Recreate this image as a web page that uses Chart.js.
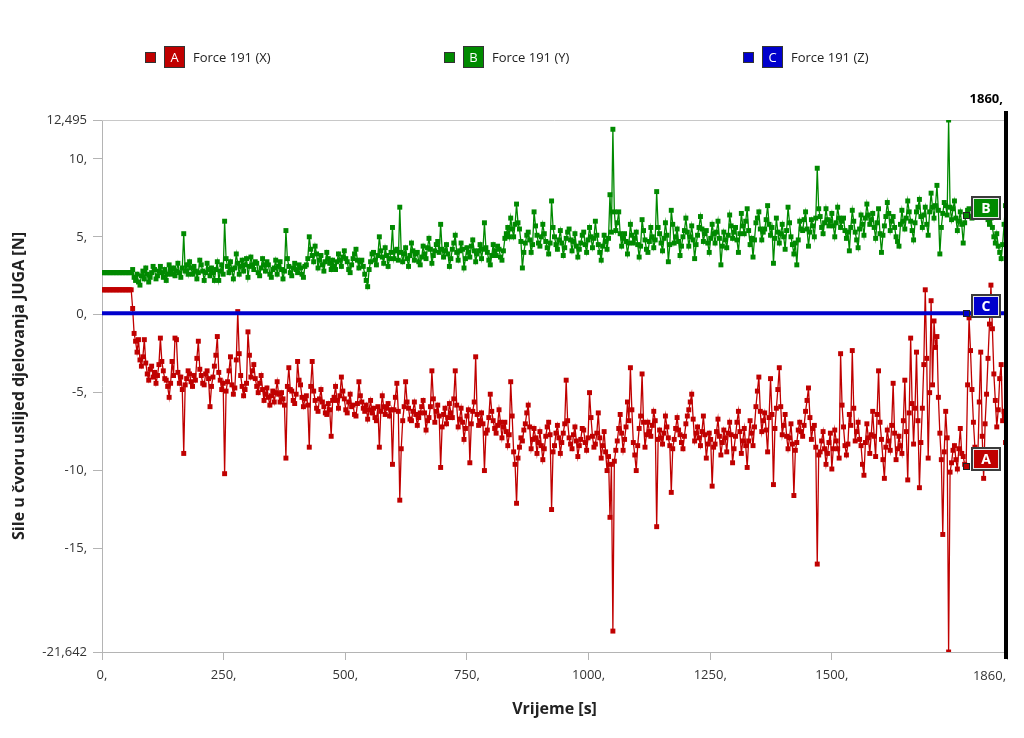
<!DOCTYPE html>
<html><head><meta charset="utf-8">
<script src="https://cdn.jsdelivr.net/npm/chart.js@4.4.1/dist/chart.umd.min.js"></script>
<style>html,body{margin:0;padding:0;background:#fff;}canvas{display:block;}</style>
</head><body>
<canvas id="c" width="1024" height="738"></canvas>
<script>
// ---- DATA ----
const times = [
0,3,6,9,12,15,18,21,24,27,30,33,36,39,42,45,48,51,54,57,
60,63,66,69,72,75,78,81,84,87,90,93,96,99,102,105,108,111,114,117,
120,123,126,129,132,135,138,141,144,147,150,153,156,159,162,165,168,171,174,177,
180,183,186,189,192,195,198,201,204,207,210,213,216,219,222,225,228,231,234,237,
240,243,246,249,252,255,258,261,264,267,270,273,276,279,282,285,288,291,294,297,
300,303,306,309,312,315,318,321,324,327,330,333,336,339,342,345,348,351,354,357,
360,363,366,369,372,375,378,381,384,387,390,393,396,399,402,405,408,411,414,417,
420,423,426,429,432,435,438,441,444,447,450,453,456,459,462,465,468,471,474,477,
480,483,486,489,492,495,498,501,504,507,510,513,516,519,522,525,528,531,534,537,
540,543,546,549,552,555,558,561,564,567,570,573,576,579,582,585,588,591,594,597,
600,603,606,609,612,615,618,621,624,627,630,633,636,639,642,645,648,651,654,657,
660,663,666,669,672,675,678,681,684,687,690,693,696,699,702,705,708,711,714,717,
720,723,726,729,732,735,738,741,744,747,750,753,756,759,762,765,768,771,774,777,
780,783,786,789,792,795,798,801,804,807,810,813,816,819,822,825,828,831,834,837,
840,843,846,849,852,855,858,861,864,867,870,873,876,879,882,885,888,891,894,897,
900,903,906,909,912,915,918,921,924,927,930,933,936,939,942,945,948,951,954,957,
960,963,966,969,972,975,978,981,984,987,990,993,996,999,1002,1005,1008,1011,1014,1017,
1020,1023,1026,1029,1032,1035,1038,1041,1044,1047,1050,1053,1056,1059,1062,1065,1068,1071,1074,1077,
1080,1083,1086,1089,1092,1095,1098,1101,1104,1107,1110,1113,1116,1119,1122,1125,1128,1131,1134,1137,
1140,1143,1146,1149,1152,1155,1158,1161,1164,1167,1170,1173,1176,1179,1182,1185,1188,1191,1194,1197,
1200,1203,1206,1209,1212,1215,1218,1221,1224,1227,1230,1233,1236,1239,1242,1245,1248,1251,1254,1257,
1260,1263,1266,1269,1272,1275,1278,1281,1284,1287,1290,1293,1296,1299,1302,1305,1308,1311,1314,1317,
1320,1323,1326,1329,1332,1335,1338,1341,1344,1347,1350,1353,1356,1359,1362,1365,1368,1371,1374,1377,
1380,1383,1386,1389,1392,1395,1398,1401,1404,1407,1410,1413,1416,1419,1422,1425,1428,1431,1434,1437,
1440,1443,1446,1449,1452,1455,1458,1461,1464,1467,1470,1473,1476,1479,1482,1485,1488,1491,1494,1497,
1500,1503,1506,1509,1512,1515,1518,1521,1524,1527,1530,1533,1536,1539,1542,1545,1548,1551,1554,1557,
1560,1563,1566,1569,1572,1575,1578,1581,1584,1587,1590,1593,1596,1599,1602,1605,1608,1611,1614,1617,
1620,1623,1626,1629,1632,1635,1638,1641,1644,1647,1650,1653,1656,1659,1662,1665,1668,1671,1674,1677,
1680,1683,1686,1689,1692,1695,1698,1701,1704,1707,1710,1713,1716,1719,1722,1725,1728,1731,1734,1737,
1740,1743,1746,1749,1752,1755,1758,1761,1764,1767,1770,1773,1776,1779,1782,1785,1788,1791,1794,1797,
1800,1803,1806,1809,1812,1815,1818,1821,1824,1827,1830,1833,1836,1839,1842,1845,1848,1851,1854,1857,
1860];

const forceX = [
1.6,1.6,1.6,1.6,1.6,1.6,1.6,1.6,1.6,1.6,1.6,1.6,1.6,1.6,1.6,1.6,1.6,1.6,1.6,1.6,
1.6,0.4,-1.2,-1.7,-2.4,-1.6,-2.9,-3.3,-2.7,-1.6,-3.1,-3.8,-4.2,-3.5,-3.3,-4.0,-3.7,-4.4,-3.9,-3.2,
-1.5,-3.0,-3.6,-4.1,-4.2,-4.6,-5.3,-4.4,-3.0,-3.9,-1.5,-1.6,-3.7,-4.4,-4.0,-4.8,-8.9,-4.5,-4.1,-3.6,
-3.8,-4.3,-4.6,-3.9,-4.2,-2.8,-1.7,-3.5,-3.9,-4.4,-4.5,-3.8,-3.6,-4.1,-5.9,-4.6,-4.0,-3.3,-2.6,-1.4,
-3.7,-4.2,-4.8,-4.4,-10.2,-4.9,-4.3,-3.6,-2.7,-4.5,-5.1,-4.7,-2.9,0.2,-2.5,-3.9,-4.6,-5.2,-4.8,-4.4,
-1.1,-2.6,-4.0,-3.6,-3.2,-4.1,-4.6,-5.0,-4.4,-3.9,-4.8,-5.5,-5.1,-4.7,-5.3,-5.8,-5.2,-4.9,-5.6,-5.0,
-4.3,-5.1,-5.6,-5.0,-5.4,-5.8,-9.2,-4.6,-3.4,-4.8,-4.9,-5.5,-5.7,-5.1,-3.0,-4.2,-4.5,-5.3,-5.9,-5.4,
-5.2,-5.8,-8.5,-4.6,-3.0,-4.9,-5.5,-6.0,-6.2,-5.4,-4.8,-5.6,-5.9,-6.3,-6.4,-5.7,-6.1,-7.8,-5.5,-5.3,
-4.6,-5.5,-6.0,-5.2,-4.0,-4.9,-5.4,-6.1,-6.3,-5.6,-5.1,-5.9,-5.8,-6.4,-6.5,-5.7,-4.3,-5.2,-5.6,-6.0,
-6.2,-5.8,-6.7,-6.1,-5.5,-6.3,-6.0,-6.6,-6.8,-5.9,-8.5,-6.2,-5.2,-5.9,-6.4,-6.0,-5.7,-6.5,-6.1,-9.6,
-6.1,-5.3,-4.4,-6.2,-11.9,-8.6,-6.8,-5.9,-4.3,-5.6,-6.0,-6.7,-6.8,-6.2,-5.6,-6.4,-7.1,-6.6,-6.3,-5.9,
-5.5,-6.3,-7.4,-6.8,-6.6,-5.9,-3.6,-5.4,-6.9,-6.2,-5.8,-6.5,-9.8,-7.2,-6.4,-6.0,-7.0,-6.6,-5.7,-6.3,
-6.6,-5.4,-3.6,-5.8,-7.2,-6.7,-6.0,-6.9,-8.0,-7.3,-6.5,-6.1,-9.5,-7.0,-6.2,-5.6,-2.7,-6.4,-7.1,-6.8,
-6.3,-7.0,-10.0,-7.6,-7.4,-6.6,-5.1,-6.2,-6.8,-7.3,-7.6,-7.1,-6.1,-6.9,-7.9,-7.2,-6.9,-7.5,-8.4,-7.7,
-4.3,-6.5,-8.8,-9.6,-12.1,-9.2,-8.5,-7.9,-8.1,-7.4,-7.0,-6.3,-5.8,-7.2,-8.6,-8.0,-7.3,-7.9,-8.9,-8.2,
-7.5,-8.4,-9.3,-8.6,-7.8,-7.2,-6.9,-7.7,-12.5,-8.8,-8.4,-7.6,-7.1,-7.9,-8.9,-8.2,-7.6,-7.0,-4.2,-6.8,
-7.9,-8.3,-8.6,-7.7,-7.2,-8.1,-9.1,-8.4,-8.0,-7.3,-7.4,-8.2,-8.7,-7.9,-5.0,-6.6,-7.8,-8.5,-8.3,-7.6,
-6.3,-7.9,-9.2,-8.4,-7.5,-8.8,-10.0,-9.1,-13.0,-9.6,-20.3,-9.4,-8.7,-8.1,-7.3,-6.4,-7.6,-8.7,-8.0,-7.2,
-5.6,-6.8,-3.4,-6.1,-8.2,-9.0,-10.0,-8.4,-7.3,-6.5,-3.8,-6.9,-8.5,-7.7,-6.9,-7.5,-7.8,-7.1,-6.2,-6.8,
-13.6,-8.0,-7.4,-7.9,-8.3,-7.6,-6.5,-7.2,-7.9,-8.4,-11.4,-8.6,-8.0,-7.3,-6.6,-7.4,-7.7,-8.2,-8.6,-7.8,
-7.0,-6.5,-6.1,-5.6,-5.1,-6.7,-8.1,-7.6,-7.2,-7.9,-8.4,-7.5,-6.5,-7.7,-9.2,-8.3,-7.6,-8.0,-11.0,-8.5,
-8.3,-7.5,-6.7,-7.8,-9.0,-8.2,-7.4,-7.9,-8.8,-7.6,-6.9,-7.7,-9.5,-8.6,-7.8,-6.9,-6.2,-7.5,-8.9,-8.1,
-7.3,-8.4,-9.8,-8.1,-6.8,-7.6,-8.4,-7.2,-5.9,-4.9,-4.0,-6.2,-7.5,-6.8,-6.3,-7.4,-8.8,-6.6,-4.1,-6.4,
-10.9,-7.3,-6.0,-4.8,-3.4,-5.9,-7.7,-7.1,-6.4,-7.8,-8.6,-7.9,-7.0,-8.3,-11.6,-8.7,-8.2,-7.4,-6.9,-7.5,
-7.8,-7.1,-6.2,-5.5,-4.7,-6.6,-8.0,-7.3,-7.1,-8.5,-16.0,-9.0,-8.8,-8.1,-7.5,-8.6,-9.6,-8.9,-8.2,-7.6,
-9.9,-8.6,-7.4,-8.1,-8.6,-9.2,-2.5,-5.8,-7.2,-8.4,-9.0,-8.3,-6.4,-7.1,-2.3,-6.0,-8.1,-7.5,-6.9,-8.0,
-8.4,-9.6,-10.3,-8.2,-7.0,-7.9,-8.9,-7.7,-6.2,-7.8,-9.1,-6.4,-3.6,-6.9,-8.0,-9.3,-10.5,-8.5,-7.4,-8.1,
-8.7,-7.1,-4.4,-7.6,-9.3,-8.6,-7.8,-8.4,-8.9,-6.8,-4.2,-7.5,-10.6,-6.3,-1.5,-5.7,-8.3,-6.0,-2.4,-6.8,
-11.1,-8.2,-6.0,-3.2,1.6,-2.8,-9.2,-5.0,0.9,-4.5,-0.4,-2.1,-1.4,-5.3,-7.6,-9.3,-14.1,-8.8,-6.2,-7.9,
-21.642,-10.1,-9.5,-8.7,-8.4,-9.3,-9.9,-8.6,-7.3,-8.9,-9.1,-9.6,-9.7,-4.5,-0.2,-2.3,-4.8,-6.9,-8.5,-9.4,
-9.2,-5.6,-2.4,-7.8,-10.5,-7.0,-5.1,-2.8,-0.6,1.9,-0.9,-3.8,-5.5,-7.2,-6.1,-4.1,-3.2,-6.8,-6.2,-8.2,
-9.9];

const forceY = [
2.7,2.7,2.7,2.7,2.7,2.7,2.7,2.7,2.7,2.7,2.7,2.7,2.7,2.7,2.7,2.7,2.7,2.7,2.7,2.7,
2.7,2.9,2.4,2.2,2.6,2.1,1.9,2.5,2.8,2.3,3.0,2.6,2.1,2.4,2.7,3.1,2.9,2.3,2.5,2.8,
3.1,2.7,2.4,2.9,2.2,2.6,3.2,2.9,2.6,3.0,2.5,2.8,3.3,2.7,2.4,3.0,5.2,2.8,3.2,2.6,
3.4,3.0,2.6,3.1,2.8,2.3,2.7,3.5,3.2,2.8,2.2,2.7,3.3,2.9,2.5,3.0,2.7,2.2,2.9,3.4,
2.2,2.8,3.2,2.6,6.0,3.6,3.1,2.7,3.4,2.9,2.3,3.0,3.9,3.3,2.6,3.1,3.5,2.8,3.2,3.6,
2.4,3.1,3.7,3.2,2.9,3.4,3.3,2.7,2.5,3.0,3.6,3.2,2.8,3.4,3.2,2.6,2.4,2.9,3.0,3.5,
2.6,3.1,3.4,2.9,2.3,2.8,5.4,3.6,3.1,2.7,2.5,3.0,3.3,2.9,2.7,3.2,3.0,2.6,2.4,3.1,
3.2,3.6,5.0,4.2,3.8,3.4,4.4,3.9,3.0,3.5,3.8,3.2,2.8,3.4,4.0,3.6,3.3,2.9,3.5,3.1,
2.9,3.4,3.9,3.5,3.1,3.7,4.1,3.6,3.4,2.9,2.7,3.2,3.6,3.9,4.2,3.5,3.0,3.4,3.5,3.1,
2.6,2.2,1.8,2.9,3.4,3.9,4.0,3.5,3.2,3.8,5.0,4.1,3.7,3.3,4.3,3.8,3.1,3.6,4.0,5.6,
3.6,4.1,4.2,3.5,6.9,4.0,3.4,3.9,4.3,3.6,3.1,3.8,4.6,4.1,3.5,3.9,4.0,3.4,3.2,3.7,
4.4,3.9,3.6,4.3,4.9,4.2,3.3,3.8,4.1,4.5,4.7,4.0,5.8,4.2,3.7,4.1,4.5,3.9,3.1,3.6,
4.2,4.6,5.1,4.0,3.5,4.1,4.6,4.2,3.0,3.6,4.3,4.0,3.7,4.4,4.8,4.1,3.4,3.9,4.1,4.5,
3.6,4.2,5.9,4.3,4.0,3.5,3.2,3.8,4.5,4.1,3.8,4.4,4.2,3.7,3.5,4.1,4.9,5.2,5.6,5.0,
6.2,5.5,5.0,5.8,7.1,5.9,5.5,4.7,3.0,4.0,4.6,5.1,5.3,4.8,4.0,4.5,6.6,5.7,5.1,4.6,
4.4,5.0,5.8,5.2,4.7,4.3,3.9,4.6,7.3,5.6,5.0,4.5,4.2,4.8,5.4,4.6,3.8,4.3,4.9,5.3,
5.5,4.8,4.1,4.7,5.2,4.4,3.7,4.2,4.6,5.1,5.3,4.5,4.0,4.8,5.6,5.0,4.3,4.9,6.0,5.1,
4.5,4.0,3.5,4.4,5.1,4.7,4.2,4.9,7.7,5.3,11.9,6.6,5.4,5.9,6.6,5.2,4.4,4.9,5.2,4.7,
3.9,4.6,5.8,5.1,4.6,4.9,5.3,4.5,3.7,4.4,6.1,5.4,4.8,4.2,4.0,4.7,5.6,5.0,4.3,4.8,
7.9,5.6,5.2,4.6,4.1,4.9,5.9,5.1,3.4,4.5,6.7,5.8,4.6,5.0,5.5,4.7,3.8,4.4,5.0,5.4,
6.2,5.3,4.4,5.0,5.7,4.8,3.6,4.5,5.1,5.6,6.3,5.5,4.7,5.2,5.4,4.6,4.0,4.9,5.8,5.2,
4.6,5.3,6.0,4.9,3.2,4.4,5.3,4.8,4.3,5.1,6.4,5.7,4.9,5.3,5.6,4.8,4.0,5.2,6.5,5.7,
5.2,6.0,6.8,5.4,4.5,4.9,3.7,4.8,5.9,6.2,6.6,5.5,4.8,5.3,5.5,6.1,7.0,5.8,5.1,5.6,
3.3,4.9,6.2,5.3,4.6,5.2,5.8,5.0,4.2,5.4,6.9,5.9,5.0,4.5,3.9,4.6,3.2,4.8,6.0,5.5,
5.4,6.1,6.6,5.5,4.4,5.3,6.1,5.7,5.0,6.2,9.4,6.8,6.3,5.6,5.2,5.9,6.8,6.1,5.7,6.0,
6.5,5.7,5.0,5.9,6.9,6.2,5.6,6.0,6.2,5.4,4.9,5.3,4.1,5.6,6.7,6.0,5.3,4.8,4.3,5.5,
6.4,5.8,5.1,6.2,7.1,6.4,5.8,6.1,6.5,5.6,4.9,5.9,6.8,5.2,4.0,5.1,5.7,6.3,7.2,6.5,
5.4,6.0,6.3,5.6,5.0,4.7,4.4,5.8,6.7,6.0,5.5,6.2,7.3,6.6,6.0,5.4,4.8,5.9,6.6,6.9,
7.4,6.3,5.6,6.4,6.9,5.8,5.1,6.6,7.8,6.9,6.2,7.0,8.3,6.7,3.9,5.6,6.5,7.2,7.0,6.4,
12.495,6.9,6.1,6.8,7.3,6.2,5.4,6.0,6.6,5.8,4.6,5.9,6.4,6.7,6.8,6.3,6.2,6.9,7.0,6.6,
6.5,6.8,6.9,6.4,6.3,6.8,6.7,6.1,5.8,6.2,5.6,5.0,4.6,5.2,4.4,4.0,3.6,4.5,5.8,7.0,
-1.3];

const forceZTimes = [0, 1860];
const forceZ = [0.1, 0.1];

const seriesNames = ['Force 191 (X)', 'Force 191 (Y)', 'Force 191 (Z)'];
const seriesLetters = ['A', 'B', 'C'];
const seriesColors = ['#c00000', '#008a00', '#0000cc'];

const xTicks = [0, 250, 500, 750, 1000, 1250, 1500, 1860];
const xTickLabels = ['0,', '250,', '500,', '750,', '1000,', '1250,', '1500,', '1860,'];
const yTicks = [-21.642, -15, -10, -5, 0, 5, 10, 12.495];
const yTickLabels = ['-21,642', '-15,', '-10,', '-5,', '0,', '5,', '10,', '12,495'];
const cursorTime = 1860;
const cursorLabel = '1860,';
const tagTime = 1776;

// ---- RENDER ----
const FONT = "'Open Sans', 'Noto Sans', 'DejaVu Sans', sans-serif";

function toXY(ts, vs) { return ts.map((t, i) => ({ x: t, y: vs[i] })); }
function valueAt(points, t) {
  let best = points[0];
  for (const p of points) if (Math.abs(p.x - t) < Math.abs(best.x - t)) best = p;
  return best.y;
}

const overlay = {
  id: 'overlay',
  beforeDatasetsDraw(chart) {
    const { ctx, chartArea: a } = chart;
    ctx.save();
    ctx.strokeStyle = '#c8c8c8'; ctx.lineWidth = 1;
    ctx.beginPath(); ctx.moveTo(a.left, a.top + 0.5); ctx.lineTo(a.right, a.top + 0.5); ctx.stroke();
    ctx.restore();
  },
  afterDraw(chart) {
    const { ctx, chartArea: a, scales: { x, y } } = chart;
    ctx.save();
    // time cursor
    const cx = Math.round(x.getPixelForValue(cursorTime));
    ctx.fillStyle = '#000';
    ctx.fillRect(cx - 3, a.top - 9, 4, a.bottom - a.top + 16);
    ctx.font = `bold 13px ${FONT}`;
    ctx.textAlign = 'right'; ctx.textBaseline = 'middle';
    ctx.fillText(cursorLabel, cx - 4, a.top - 21);
    // last x tick label (right aligned)
    ctx.font = `13px ${FONT}`; ctx.fillStyle = '#333';
    ctx.textAlign = 'right'; ctx.textBaseline = 'middle';
    ctx.fillText(xTickLabels[xTickLabels.length - 1], cx - 1, a.bottom + 24);

    // tags A/B/C
    chart.data.datasets.forEach((ds, i) => {
      const v = valueAt(ds.data, tagTime);
      const px = Math.round(x.getPixelForValue(tagTime));
      const py = Math.round(y.getPixelForValue(v));
      const col = seriesColors[i];
      ctx.fillStyle = '#222';
      ctx.fillRect(px - 3, py - 3, 7, 7);
      ctx.fillStyle = col;
      ctx.fillRect(px - 2, py - 2, 5, 5);
      const bl = px + 5, bb = py + 5, bw = 30, bh = 24;
      ctx.fillStyle = '#3a3a3a'; ctx.fillRect(bl, bb - bh, bw, bh);
      ctx.fillStyle = '#e8e8e8'; ctx.fillRect(bl + 2, bb - bh + 2, bw - 4, bh - 4);
      ctx.fillStyle = col; ctx.fillRect(bl + 3, bb - bh + 3, bw - 6, bh - 6);
      ctx.fillStyle = '#fff'; ctx.font = `bold 14px ${FONT}`;
      ctx.textAlign = 'center'; ctx.textBaseline = 'middle';
      ctx.fillText(seriesLetters[i], bl + bw / 2, bb - bh / 2 + 1);
    });

    // legend
    const lx = [145, 444, 743];
    const ly = 57;
    seriesNames.forEach((name, i) => {
      const col = seriesColors[i];
      const sx = lx[i];
      ctx.fillStyle = '#333'; ctx.fillRect(sx, ly - 5, 11, 11);
      ctx.fillStyle = col; ctx.fillRect(sx + 1, ly - 4, 9, 9);
      ctx.fillStyle = '#333'; ctx.fillRect(sx + 19, ly - 11, 21, 22);
      ctx.fillStyle = col; ctx.fillRect(sx + 20, ly - 10, 19, 20);
      ctx.fillStyle = '#fff'; ctx.font = `13px ${FONT}`;
      ctx.textAlign = 'center'; ctx.textBaseline = 'middle';
      ctx.fillText(seriesLetters[i], sx + 29.5, ly + 1);
      ctx.fillStyle = '#222'; ctx.textAlign = 'left';
      ctx.fillText(name, sx + 48, ly + 1);
    });
    ctx.restore();
  }
};

const lineDs = (label, data, color, order) => ({
  label, data, order,
  borderColor: color, backgroundColor: color,
  borderWidth: 1.3, tension: 0,
  pointStyle: 'rect', pointRadius: 3.5, pointBorderWidth: 0,
  pointBackgroundColor: color, pointHoverRadius: 3.5
});

new Chart(document.getElementById('c'), {
  type: 'line',
  data: {
    datasets: [
      lineDs(seriesNames[0], toXY(times, forceX), seriesColors[0], 1),
      lineDs(seriesNames[1], toXY(times, forceY), seriesColors[1], 2),
      { label: seriesNames[2], data: toXY(forceZTimes, forceZ), order: 0,
        borderColor: seriesColors[2], backgroundColor: seriesColors[2],
        borderWidth: 4, pointRadius: 0, tension: 0 }
    ]
  },
  options: {
    responsive: false, animation: false, events: [],
    layout: { padding: { top: 120, right: 17, left: 0, bottom: 0 } },
    plugins: { legend: { display: false }, tooltip: { enabled: false } },
    scales: {
      x: {
        type: 'linear', min: 0, max: 1860,
        afterBuildTicks(s) { s.ticks = xTicks.map(v => ({ value: v })); },
        afterFit(s) { s.height = 86; },
        ticks: {
          autoSkip: false, maxRotation: 0, padding: 7, color: '#333',
          font: { family: FONT, size: 13 },
          callback(v, i) { return i === xTicks.length - 1 ? '' : xTickLabels[i]; }
        },
        grid: { drawOnChartArea: false, drawTicks: true, tickLength: 8, color: '#b4b4b4' },
        border: { display: true, color: '#b4b4b4' },
        title: { display: true, text: 'Vrijeme [s]', color: '#222',
          font: { family: FONT, size: 16, weight: 'bold' }, padding: { top: 0, bottom: 19 } }
      },
      y: {
        type: 'linear', min: -21.642, max: 12.495,
        afterBuildTicks(s) { s.ticks = yTicks.map(v => ({ value: v })); },
        afterFit(s) { s.width = 102; },
        ticks: {
          autoSkip: false, padding: 6, color: '#333',
          font: { family: FONT, size: 13 },
          callback(v, i) { return yTickLabels[i]; }
        },
        grid: { drawOnChartArea: false, drawTicks: true, tickLength: 9, color: '#b4b4b4' },
        border: { display: true, color: '#b4b4b4' },
        title: { display: true, text: 'Sile u čvoru uslijed djelovanja JUGA [N]', color: '#222',
          font: { family: FONT, size: 16, weight: 'bold' }, padding: { top: 10, bottom: 0 } }
      }
    }
  },
  plugins: [overlay]
});
</script>
</body></html>
